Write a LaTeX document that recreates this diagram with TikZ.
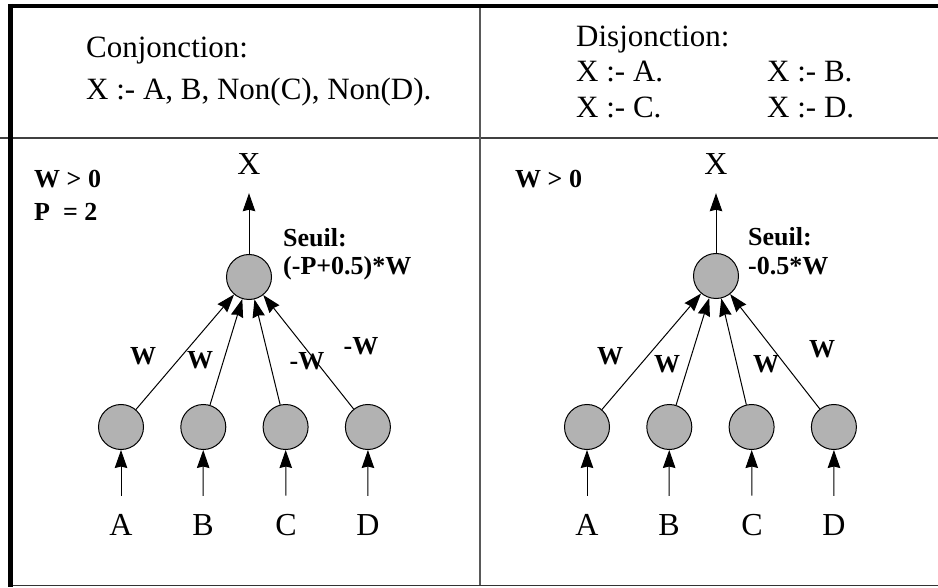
\documentclass[tikz,border=0pt]{standalone}
\usepackage{fontspec}
\setmainfont{Liberation Serif}
\usetikzlibrary{arrows.meta,positioning}
\definecolor{cellgray}{gray}{0.7}

\begin{document}
\begin{tikzpicture}[x=1pt, y=-1pt, node distance=82.3pt,
		neuron/.style={
			circle,
			draw,
			fill=cellgray,
			line width=1pt,
			minimum size=45pt,
			inner sep=0pt},
		syn/.style={
			-{Stealth[length=18pt, width=12.5pt, inset=1.5pt]},
			line width=1pt},
		head/.style={
			anchor=base west,
			inner sep=0pt,
			font=\fontsize{31}{36}\selectfont},
		var/.style={
			anchor=base,
			inner sep=0pt,
			font=\fontsize{32}{36}\selectfont},
		lbl/.style={
			anchor=base,
			inner sep=0pt,
			font=\bfseries\fontsize{26}{30}\selectfont},
		note/.style={
			anchor=base west,
			inner sep=0pt,
			font=\bfseries\fontsize{26}{30}\selectfont}]

		\useasboundingbox (0,0) rectangle (938,588);
		\draw [line width=1.5pt, black!75] (0,138) -- (938,138);
		\draw [line width=1.3pt, black!65] (480,6) -- (480,586);
		\draw [line width=1.5pt, black!80] (9,585.5) -- (938,585.5);
		\draw [line width=4.5pt] (10.5,4) -- (10.5,587);
		\draw [line width=4pt] (8.5,6) -- (938,6);

		\node (conj) [head] at (86,58) {Conjonction:};
		\node (conjRule) [head] at (86,100) {X :- A, B, Non(C), Non(D).};
		\node (disj) [head] at (576,47) {Disjonction:};
		\node (disjA) [head] at (576,82) {X :- A.};
		\node (disjB) [head] at (767,82) {X :- B.};
		\node (disjC) [head] at (576,118) {X :- C.};
		\node (disjD) [head] at (767,118) {X :- D.};

		\node (topL) [neuron] at (249,277) {};
		\node (aL) [neuron] at (121,427) {};
		\node (bL) [neuron, right of = aL] {};
		\node (cL) [neuron, right of = bL] {};
		\node (dL) [neuron, right of = cL] {};
		\node (xL) [var] at (249,175) {X};
		\node (inAL) [var] at (121,535) {A};
		\node (inBL) [var] at (203,535) {B};
		\node (inCL) [var] at (286,535) {C};
		\node (inDL) [var] at (368,535) {D};

		\node (topR) [neuron] at (716,276) {};
		\node (aR) [neuron] at (587,427) {};
		\node (bR) [neuron, right of = aR] {};
		\node (cR) [neuron, right of = bR] {};
		\node (dR) [neuron, right of = cR] {};
		\node (xR) [var] at (716,175) {X};
		\node (inAR) [var] at (587,535) {A};
		\node (inBR) [var] at (669,535) {B};
		\node (inCR) [var] at (752,535) {C};
		\node (inDR) [var] at (834,535) {D};

		\draw [syn, shorten >=18pt] (topL) -- (xL);
		\draw [syn] (aL) -- (topL);
		\draw [syn] (bL) -- (topL);
		\draw [syn] (cL) -- (topL);
		\draw [syn] (dL) -- (topL);
		\draw [syn, shorten <=18pt] (inAL) -- (aL);
		\draw [syn, shorten <=18pt] (inBL) -- (bL);
		\draw [syn, shorten <=18pt] (inCL) -- (cL);
		\draw [syn, shorten <=18pt] (inDL) -- (dL);

		\draw [syn, shorten >=18pt] (topR) -- (xR);
		\draw [syn] (aR) -- (topR);
		\draw [syn] (bR) -- (topR);
		\draw [syn] (cR) -- (topR);
		\draw [syn] (dR) -- (topR);
		\draw [syn, shorten <=18pt] (inAR) -- (aR);
		\draw [syn, shorten <=18pt] (inBR) -- (bR);
		\draw [syn, shorten <=18pt] (inCR) -- (cR);
		\draw [syn, shorten <=18pt] (inDR) -- (dR);

		\node (wA) [lbl] at (143,365) {W};
		\node (wB) [lbl] at (200,368) {W};
		\node (wC) [lbl] at (307,370) {-W};
		\node (wD) [lbl] at (361,355) {-W};
		\node (vA) [lbl] at (610,365) {W};
		\node (vB) [lbl] at (667,372) {W};
		\node (vC) [lbl] at (766,373) {W};
		\node (vD) [lbl] at (822,358) {W};

		\node (condL) [note] at (34,188) {W > 0};
		\node (pval) [note] at (34,221) {P \ = 2};
		\node (seuilL) [note] at (283,247) {Seuil:};
		\node (valL) [note] at (283,275) {(-P+0.5)*W};
		\node (condR) [note] at (515,188) {W > 0};
		\node (seuilR) [note] at (748,246) {Seuil:};
		\node (valR) [note] at (748,275) {-0.5*W};
	\end{tikzpicture}
\end{document}
